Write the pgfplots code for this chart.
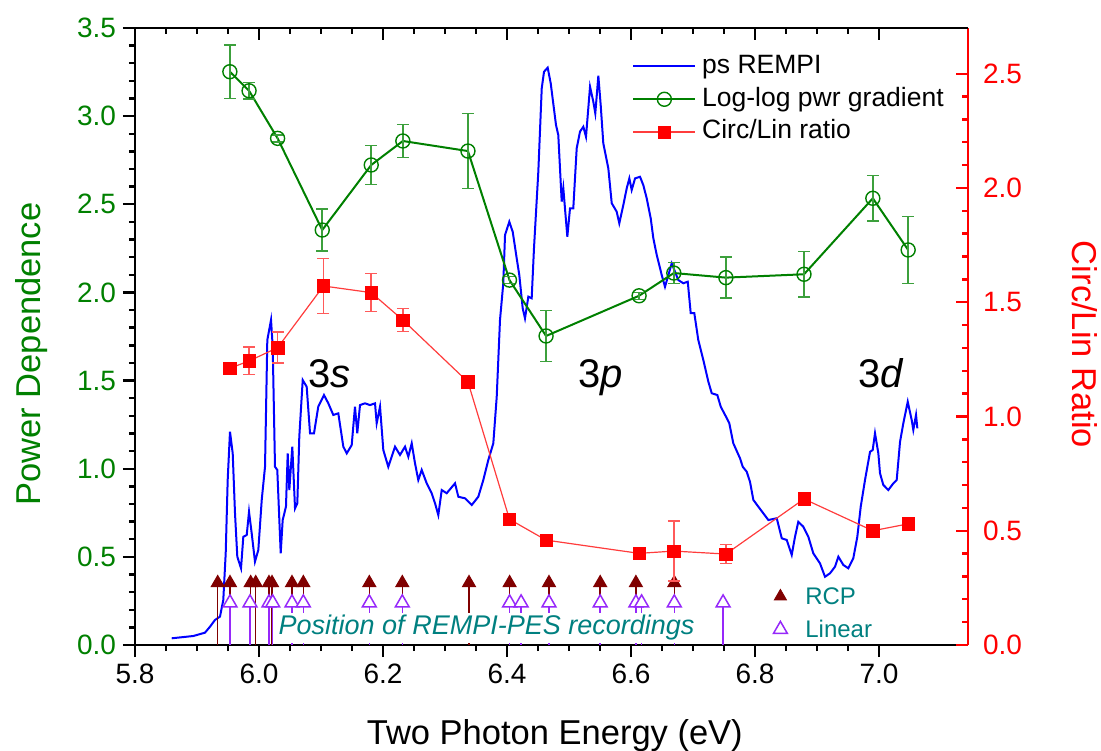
\documentclass[border=0pt]{standalone}
\usepackage{pgfplots}
\pgfplotsset{compat=1.18}
\usepackage{pgfplotstable}
\usepackage{fontspec}
\setmainfont{Liberation Sans}
\definecolor{pgreen}{RGB}{0,128,0}
\definecolor{egreen}{RGB}{60,160,60}
\definecolor{pblue}{RGB}{0,0,255}
\definecolor{pred}{RGB}{255,0,0}
\definecolor{lred}{RGB}{255,60,60}
\definecolor{ered}{RGB}{255,90,90}
\definecolor{dred}{RGB}{128,0,0}
\definecolor{pviolet}{RGB}{150,40,250}
\definecolor{pteal}{RGB}{0,128,128}

\pgfplotstableread{
x y
5.8592 0.038
5.8940 0.051
5.9129 0.070
5.9210 0.104
5.9290 0.142
5.9371 0.161
5.9424 0.255
5.9463 0.520
5.9495 0.936
5.9532 1.210
5.9576 1.087
5.9613 0.747
5.9650 0.501
5.9710 0.435
5.9747 0.614
5.9802 0.624
5.9839 0.756
5.9882 0.634
5.9935 0.473
5.9989 0.539
6.0044 0.823
6.0097 1.011
6.0134 1.730
6.0194 1.844
6.0221 1.692
6.0258 1.011
6.0295 0.993
6.0350 0.520
6.0382 0.709
6.0435 0.785
6.0463 1.087
6.0489 0.879
6.0537 1.125
6.0581 0.775
6.0618 0.804
6.0650 1.182
6.0705 1.503
6.0769 1.465
6.0823 1.201
6.0887 1.201
6.0956 1.352
6.1048 1.418
6.1118 1.371
6.1198 1.305
6.1279 1.314
6.1360 1.125
6.1415 1.087
6.1495 1.134
6.1548 1.352
6.1585 1.201
6.1629 1.361
6.1710 1.371
6.1790 1.361
6.1871 1.371
6.1898 1.258
6.1952 1.352
6.2005 1.106
6.2085 1.011
6.2194 1.125
6.2274 1.078
6.2355 1.125
6.2408 1.068
6.2463 1.144
6.2516 1.031
6.2569 0.936
6.2624 0.993
6.2705 0.917
6.2785 0.861
6.2839 0.804
6.2892 0.737
6.2947 0.879
6.3027 0.861
6.3161 0.917
6.3215 0.841
6.3323 0.832
6.3431 0.794
6.3537 0.841
6.3618 0.936
6.3698 1.049
6.3779 1.144
6.3834 1.408
6.3887 1.844
6.3940 2.052
6.3968 2.326
6.4037 2.401
6.4092 2.344
6.4156 2.194
6.4198 2.099
6.4253 1.910
6.4290 1.853
6.4344 1.976
6.4398 1.967
6.4435 2.250
6.4505 2.685
6.4560 3.158
6.4597 3.252
6.4656 3.275
6.4705 3.186
6.4790 2.950
6.4827 2.893
6.4882 2.515
6.4908 2.591
6.4973 2.316
6.5016 2.477
6.5069 2.477
6.5124 2.818
6.5177 2.912
6.5231 2.940
6.5274 2.883
6.5339 3.167
6.5392 3.082
6.5424 3.016
6.5473 3.229
6.5511 3.063
6.5553 2.846
6.5634 2.704
6.5689 2.506
6.5769 2.458
6.5811 2.392
6.5876 2.496
6.5931 2.591
6.5973 2.647
6.6011 2.581
6.6065 2.647
6.6145 2.656
6.6198 2.609
6.6253 2.534
6.6318 2.420
6.6360 2.307
6.6415 2.212
6.6495 2.099
6.6548 2.032
6.6656 2.165
6.6763 2.070
6.6844 2.052
6.6915 2.061
6.6963 1.882
6.7021 1.882
6.7085 1.730
6.7166 1.617
6.7247 1.494
6.7302 1.428
6.7392 1.418
6.7447 1.352
6.7532 1.295
6.7585 1.258
6.7650 1.144
6.7758 1.059
6.7802 1.011
6.7866 0.983
6.7919 0.926
6.7973 0.823
6.8053 0.785
6.8134 0.747
6.8215 0.709
6.8350 0.719
6.8431 0.605
6.8511 0.596
6.8592 0.511
6.8645 0.614
6.8698 0.699
6.8779 0.671
6.8860 0.614
6.8940 0.520
6.9048 0.463
6.9129 0.387
6.9210 0.407
6.9290 0.444
6.9344 0.501
6.9424 0.454
6.9505 0.435
6.9585 0.492
6.9650 0.614
6.9705 0.785
6.9774 0.936
6.9855 1.096
6.9898 1.106
6.9935 1.201
6.9989 1.087
7.0016 0.974
7.0069 0.908
7.0150 0.879
7.0231 0.917
7.0285 0.936
7.0339 1.153
7.0392 1.258
7.0463 1.380
7.0527 1.276
7.0553 1.220
7.0597 1.305
7.0618 1.229
}\rempi

\pgfplotstableread{
x y e
5.953 3.252 0.151
5.984 3.144 0.048
6.030 2.874 0.020
6.102 2.354 0.118
6.181 2.723 0.110
6.232 2.859 0.094
6.337 2.802 0.213
6.404 2.070 0.020
6.463 1.753 0.144
6.613 1.981 0.020
6.669 2.110 0.060
6.753 2.084 0.116
6.879 2.103 0.128
6.990 2.534 0.130
7.047 2.241 0.190
}\grad

\pgfplotstableread{
x y e
5.953 1.211 0
5.984 1.243 0.060
6.030 1.301 0.068
6.104 1.571 0.120
6.181 1.542 0.083
6.232 1.422 0.050
6.337 1.151 0
6.404 0.550 0
6.463 0.459 0
6.613 0.401 0
6.669 0.411 0.131
6.753 0.398 0.042
6.879 0.639 0
6.990 0.500 0
7.047 0.530 0
}\ratio

\pgfplotstableread{
x y
5.9334 0.352
5.9532 0.352
5.9866 0.352
5.9947 0.352
6.0161 0.352
6.0210 0.352
6.0532 0.352
6.0715 0.352
6.1779 0.352
6.2311 0.352
6.3387 0.352
6.4042 0.352
6.4677 0.352
6.5503 0.352
6.6079 0.352
6.6698 0.352
}\rcp

\pgfplotstableread{
x y
5.9532 0.239
5.9855 0.239
6.0161 0.239
6.0221 0.239
6.0532 0.239
6.0715 0.239
6.1779 0.239
6.2311 0.239
6.4042 0.239
6.4227 0.239
6.4677 0.239
6.5503 0.239
6.6079 0.239
6.6171 0.239
6.6698 0.239
6.7485 0.239
}\linear

\pgfplotsset{
  base/.style={
    scale only axis, width=416.5bp, height=308.5bp,
    at={(0,0)}, anchor=south west,
    xmin=5.8, xmax=7.1435,
    xtick={5.8,6.0,6.2,6.4,6.6,6.8,7.0},
    minor x tick num=3,
    major tick length=6bp, minor tick length=3bp,
    major tick style={line width=1.2bp},
    minor tick style={line width=1.2bp},
    axis line style={line width=1.3bp},
    tick label style={font=\fontsize{14bp}{16bp}\selectfont},
    /pgf/number format/.cd, fixed, fixed zerofill, precision=1, assume math mode=true, /pgfplots/.cd,
  }
}

\begin{document}
\begin{tikzpicture}
\begin{axis}[base,
  axis x line*=bottom, axis y line*=left, tick align=outside,
  xtick style={black}, ytick style={black},
  ymin=0, ymax=3.5,
  ytick={0,0.5,1.0,1.5,2.0,2.5,3.0,3.5}, minor y tick num=4,
  yticklabel style={pgreen},
  every axis x label/.style={at={(axis description cs:0.504,-0.162)}, anchor=base, font=\fontsize{17.25bp}{20bp}\selectfont},
  every axis y label/.style={at={(axis description cs:-0.114,0.4716)}, rotate=90, anchor=base, font=\fontsize{17.25bp}{20bp}\selectfont, pgreen},
  xlabel={Two Photon Energy (eV)},
  ylabel={Power Dependence},
  legend image code/.code={\draw[#1] plot coordinates {(0bp,0bp)};},
  legend style={draw=none, fill=none, at={(axis description cs:0.766,0.0966)}, anchor=north west,
    font=\fontsize{12bp}{14bp}\selectfont, text=pteal, inner sep=0pt, row sep=5.9bp, column sep=8bp,
    nodes={inner sep=1bp, text height=8.6bp, text depth=0bp}},
  legend cell align=left,
]
\addplot[pblue, line width=1bp, forget plot] table[x=x, y=y] {\rempi};
\addplot[pgreen, line width=1bp, mark=o, mark size=3.5bp, mark options={fill=white, draw=pgreen, line width=0.7bp}, forget plot] table[x=x, y=y] {\grad};
\addplot[draw=none, mark=none, forget plot,
  error bars/.cd, y dir=both, y explicit,
  error bar style={draw=egreen, line width=0.75bp},
  error mark options={draw=egreen, line width=0.75bp, mark size=3bp, rotate=90}]
  table[x=x, y=y, y error=e] {\grad};
\addplot[ycomb, dred, line width=0.75bp, mark=triangle*, mark size=3.5bp, mark options={fill=dred, draw=dred}, forget plot] table[x=x, y=y] {\rcp};
\addplot[ycomb, pviolet, line width=0.75bp, mark=triangle*, mark size=4bp, mark options={fill=white, draw=pviolet}, forget plot] table[x=x, y=y] {\linear};
\addlegendimage{only marks, mark=triangle*, mark size=3.5bp, dred, mark options={fill=dred, draw=dred}}
\addlegendentry{RCP}
\addlegendimage{only marks, mark=triangle*, mark size=4bp, pviolet, mark options={fill=white, draw=pviolet, line width=0.75bp}}
\addlegendentry{Linear}
\node[fill=white, inner sep=1bp, anchor=base, text=pteal, font=\fontsize{13.5bp}{15bp}\selectfont\itshape] at (axis cs:6.367,0.057) {Position of REMPI-PES recordings};
\node[anchor=base, font=\fontsize{20bp}{22bp}\selectfont] at (axis cs:6.114,1.463) {3\textit{s}};
\node[anchor=base, font=\fontsize{20bp}{22bp}\selectfont] at (axis cs:6.551,1.463) {3\textit{p}};
\node[anchor=base, font=\fontsize{20bp}{22bp}\selectfont] at (axis cs:7.004,1.463) {3\textit{d}};
\end{axis}

\begin{axis}[base,
  axis x line=none, axis y line*=right, tick align=inside,
  ymin=0, ymax=2.7,
  ytick={0,0.5,1.0,1.5,2.0,2.5}, minor y tick num=4,
  y axis line style={pred, line width=1.3bp},
  ytick style={pred},
  yticklabel style={pred, xshift=4bp},
  every axis y label/.style={at={(axis description cs:1.125,0.487)}, rotate=-90, anchor=base, font=\fontsize{17.25bp}{20bp}\selectfont, pred},
  ylabel={Circ/Lin Ratio},
  legend image code/.code={\draw[mark repeat=2, mark phase=2, #1] plot coordinates {(0bp,0bp) (15.5bp,0bp) (31bp,0bp)};},
  legend style={draw=none, fill=none, at={(axis description cs:0.5966,0.960)}, anchor=north west,
    font=\fontsize{13.25bp}{15bp}\selectfont, inner sep=0pt, row sep=3bp, column sep=2.4bp,
    nodes={inner sep=0.5bp, text height=9.6bp, text depth=2.8bp}},
  legend cell align=left,
]
\addlegendimage{pblue, line width=1bp}
\addlegendentry{ps REMPI}
\addlegendimage{pgreen, line width=1bp, mark=o, mark size=3.5bp, mark options={fill=white, draw=pgreen, line width=0.7bp}}
\addlegendentry{Log-log pwr gradient}
\addplot[lred, line width=0.6bp, mark=square*, mark size=3.1bp, mark options={fill=pred, draw=pred, line width=0.3bp},
  error bars/.cd, y dir=both, y explicit,
  error bar style={ered, line width=0.75bp},
  error mark options={ered, line width=0.75bp, mark size=3bp, rotate=90}]
  table[x=x, y=y, y error=e] {\ratio};
\addlegendentry{Circ/Lin ratio}
\end{axis}

\begin{axis}[base,
  axis x line*=top, axis y line=none, tick align=inside,
  xtick style={black}, xticklabel style={opacity=0},
  ymin=0, ymax=1,
]
\end{axis}
\pgfresetboundingbox
\path[use as bounding box] (-67.5bp,-53bp) rectangle (483bp,322.5bp);
\end{tikzpicture}
\end{document}
